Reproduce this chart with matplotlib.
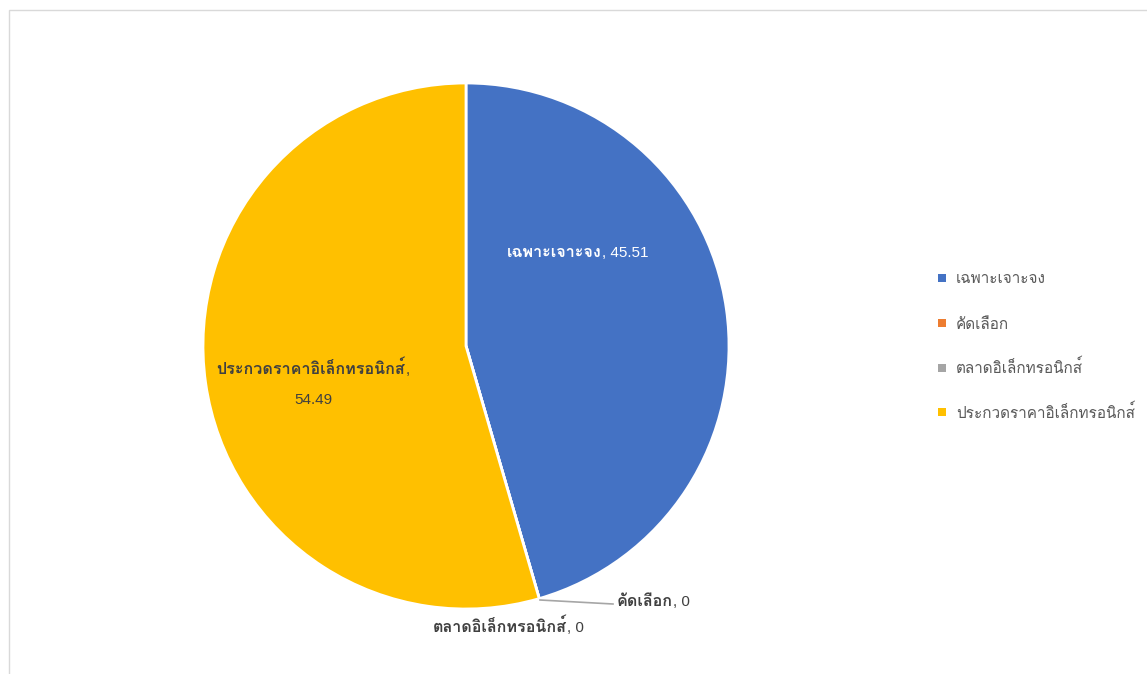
import matplotlib
matplotlib.use("Agg")
import matplotlib.pyplot as plt
from matplotlib.patches import Rectangle
from matplotlib.transforms import IdentityTransform

categories = ["เฉพาะเจาะจง", "คัดเลือก", "ตลาดอิเล็กทรอนิกส์", "ประกวดราคาอิเล็กทรอนิกส์"]
values = [45.51, 0, 0, 54.49]
colors = ["#4472C4", "#ED7D31", "#A5A5A5", "#FFC000"]

LATIN = "Liberation Sans"
THAI = "Loma"
plt.rcParams["font.family"] = [LATIN, THAI, "DejaVu Sans"]

W, H = 1147, 674
fig = plt.figure(figsize=(W / 100, H / 100), dpi=100)
fig.patch.set_facecolor("white")
ident = IdentityTransform()

# outer chart border
fig.add_artist(Rectangle((8.5 / W, -0.1), 1.2, (H - 10.5) / H + 0.1, transform=fig.transFigure,
                         fill=False, edgecolor="#D9D9D9", linewidth=1))

cx, cy, r = 466, 346, 263
ax = fig.add_axes([(cx - r) / W, (H - cy - r) / H, 2 * r / W, 2 * r / H])
wedges, _ = ax.pie(values, colors=colors, startangle=90, counterclock=False,
                   wedgeprops=dict(edgecolor="white", linewidth=2))
ax.set_xlim(-1, 1)
ax.set_ylim(-1, 1)
ax.set_aspect("equal")
ax.axis("off")

renderer = fig.canvas.get_renderer()

def label(x, ybase, parts, color, ha="left", fs=11, fs_thai=11.6):
    """parts: list of (string, is_thai_bold)"""
    arts = []
    for s, thai in parts:
        if thai:
            t = fig.text(0, H - ybase, s, transform=ident, color=color, fontsize=fs_thai,
                         family=[THAI], fontweight="bold", va="baseline", ha="left")
        else:
            t = fig.text(0, H - ybase, s, transform=ident, color=color, fontsize=fs,
                         family=[LATIN, THAI], va="baseline", ha="left")
        arts.append(t)
    widths = [a.get_window_extent(renderer).width for a in arts]
    total = sum(widths)
    x0 = x - total / 2 if ha == "center" else x
    for a, w in zip(arts, widths):
        a.set_x(x0)
        x0 += w

def fx(px):
    return (px - cx) / r

def fy(py):
    return (cy - py) / r

label(577.5, 257, [(categories[0], True), (f", {values[0]:.2f}", False)], "white", ha="center")
label(313, 374, [(categories[3], True), (",", False)], "#404040", ha="center")
label(313, 404, [(f"{values[3]:.2f}", False)], "#404040", ha="center")
ax.plot([fx(540), fx(613)], [fy(600), fy(604)], color="#A6A6A6", lw=1.2, clip_on=False)
label(617, 606, [(categories[1], True), (f", {values[1]:g}", False)], "#404040")
label(433, 632, [(categories[2], True), (f", {values[2]:g}", False)], "#404040")

# legend
sq_y = [278, 323, 368, 412]
base_y = [283, 329, 373, 418]
for cat, col, ys, yb in zip(categories, colors, sq_y, base_y):
    fig.add_artist(Rectangle((938 / W, (H - ys - 4) / H), 8 / W, 8 / H, transform=fig.transFigure,
                             facecolor=col, edgecolor="none"))
    fig.text(956, H - yb, cat, transform=ident, color="#595959", fontsize=11,
             family=[THAI], ha="left", va="baseline")

fig.savefig("out.png", dpi=100, facecolor="white")
